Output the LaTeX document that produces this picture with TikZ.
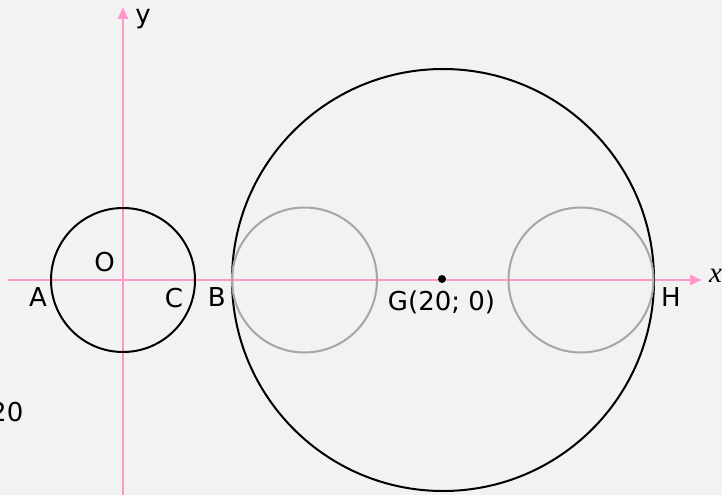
\documentclass[tikz,border=0pt]{standalone}
\usepackage{fontspec}
\setmainfont{DejaVu Sans}
\newfontfamily\axisserif{Liberation Serif}
\usetikzlibrary{arrows.meta}
\definecolor{paper}{HTML}{F2F2F2}
\definecolor{axispink}{HTML}{FF99CC}
\definecolor{ringgray}{HTML}{A6A6A6}
\definecolor{ink}{HTML}{000000}

\begin{document}
\begin{tikzpicture}[x=1pt,y=-1pt,
 lab/.style={font=\fontsize{26}{30}\selectfont,text=ink,inner sep=0pt},
 axis/.style={axispink,line width=2.4pt,-{Triangle[length=12pt,width=10pt]}},
 ring/.style={ink,line width=2pt},
 inner ring/.style={ringgray,line width=2pt}]
\fill[paper] (0,0) rectangle (722,495);
\useasboundingbox (0,0) rectangle (722,495);
\coordinate (xstart) at (8,280);
\coordinate (xend) at (702,280);
\coordinate (ystart) at (123,495);
\coordinate (yend) at (123,7);
\draw[axis] (xstart) -- (xend);
\draw[axis] (ystart) -- (yend);
\draw[ring] (123,280) circle[radius=72];
\draw[ring] (443,280) circle[radius=211];
\foreach \cx in {304.5,581} {
 \draw[inner ring] (\cx,280) circle[radius=72.5];
}
\fill[ink] (442,279) circle[radius=4];
\node[lab] (ylab) at (143,19) {y};
\node[lab,font=\fontsize{29}{33}\axisserif\itshape] (xlab) at (715.5,276) {x};
\foreach \name/\px/\py in {A/38/297,O/104.5/262.5,C/174/298,B/216.7/297.5,H/671/297.5} {
 \node[lab] (\name) at (\px,\py) {\name};
}
\node[lab] (G) at (441.5,302) {G(20; 0)};
\node[lab,anchor=east] (twenty) at (23.5,412) {20};
\end{tikzpicture}
\end{document}
